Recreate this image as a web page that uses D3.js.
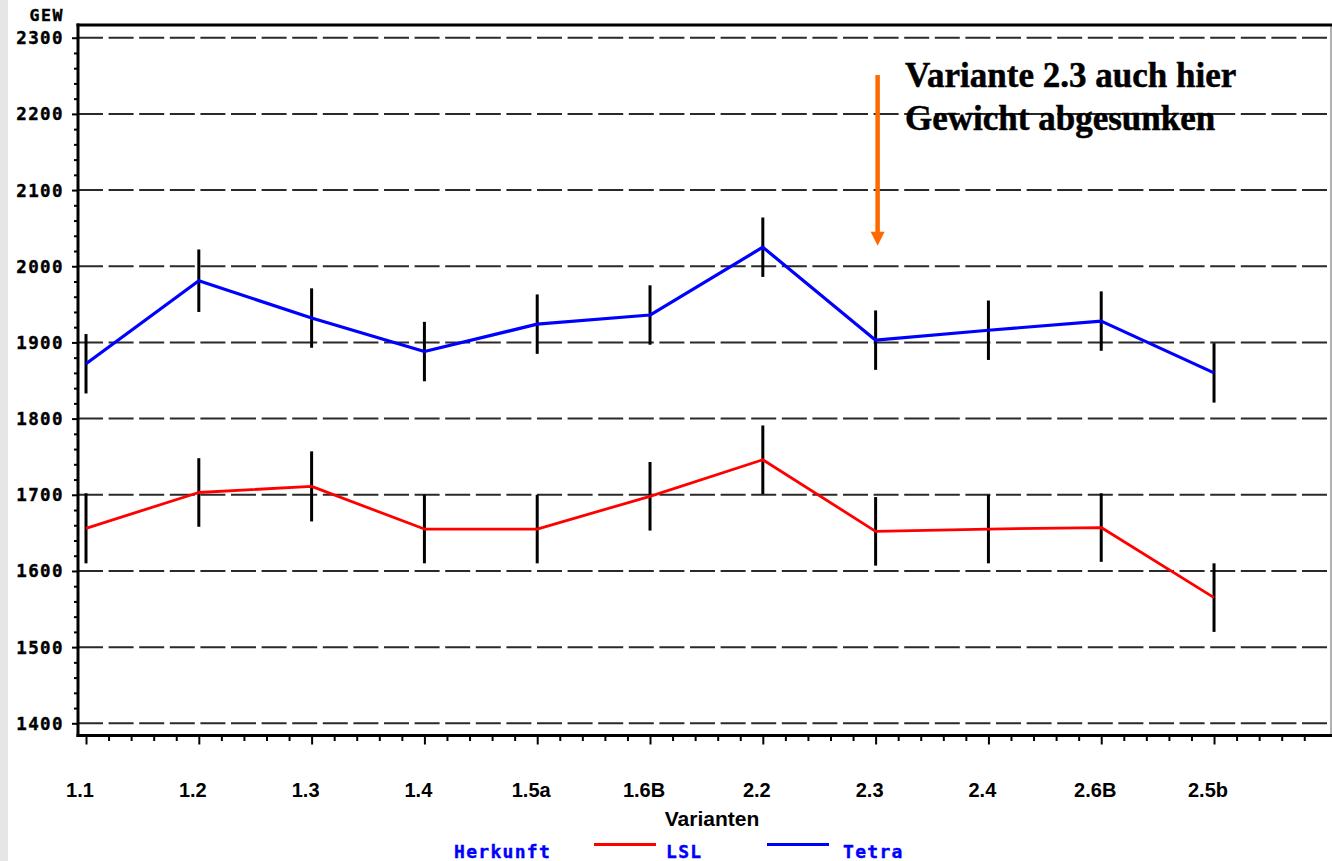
<!DOCTYPE html>
<html>
<head>
<meta charset="utf-8">
<script src="https://cdn.jsdelivr.net/npm/d3@7"></script>
<style>
  html, body { margin: 0; padding: 0; background: #fff; }
  svg { display: block; }
</style>
</head>
<body>
<script>
// ---------- data ----------
const categories = ["1.1", "1.2", "1.3", "1.4", "1.5a", "1.6B", "2.2", "2.3", "2.4", "2.6B", "2.5b"];
const lslValues   = [1656, 1703, 1711, 1655, 1655, 1698, 1746, 1652, 1655, 1657, 1565];
const lslErr      = [46, 45, 46, 45, 45, 45, 45, 45, 45, 45, 45];
const tetraValues = [1872, 1981, 1932, 1888, 1924, 1936, 2025, 1903, 1916, 1928, 1860];
const tetraErr    = [39, 41, 39, 39, 39, 39, 39, 39, 39, 39, 39];
const yTicks = [1400, 1500, 1600, 1700, 1800, 1900, 2000, 2100, 2200, 2300];
const yLabel = "GEW";
const xLabel = "Varianten";
const legendTitle = "Herkunft";
const seriesNames = ["LSL", "Tetra"];
const annotationLines = ["Variante 2.3 auch hier", "Gewicht abgesunken"];
const arrowFrom = 2251, arrowTo = 2027, arrowCategory = "2.3";

// ---------- layout ----------
const W = 1332, H = 861;
const pLeft = 78, pRight = 1331, pTop = 25, pBottom = 735.5;
const svg = d3.select("body").append("svg").attr("width", W).attr("height", H);

svg.append("rect").attr("x", 0).attr("y", 0).attr("width", 8).attr("height", H).attr("fill", "#e6e6e6");

const x = d3.scaleLinear().domain([0.929, 12.037]).range([pLeft, pRight]);
const y = d3.scaleLinear().domain([1384, 2316.7]).range([pBottom, pTop]);
const xi = i => x(i + 1);

const monoFont = "'DejaVu Sans Mono', monospace";

// grid lines
svg.append("g").selectAll("line").data(yTicks).join("line")
  .attr("x1", pLeft).attr("x2", pRight)
  .attr("y1", d => y(d)).attr("y2", d => y(d))
  .attr("stroke", "#2a2a2a").attr("stroke-width", 2)
  .attr("stroke-dasharray", "25,5.6");

// y axis
const yMinor = d3.range(1400, 2301, 20).filter(v => v % 100 !== 0);
const yAxisMajor = d3.axisLeft(y).tickValues(yTicks).tickSize(6).tickFormat("");
const yAxisMinor = d3.axisLeft(y).tickValues(yMinor).tickSize(4).tickFormat("");
const gy1 = svg.append("g").attr("transform", `translate(${pLeft},0)`).call(yAxisMajor);
const gy2 = svg.append("g").attr("transform", `translate(${pLeft},0)`).call(yAxisMinor);
[gy1, gy2].forEach(g => {
  g.select(".domain").remove();
  g.selectAll(".tick line").attr("stroke", "#000").attr("stroke-width", 2);
});
svg.append("g").selectAll("text").data(yTicks).join("text")
  .attr("x", 64).attr("y", d => y(d) + 6.5)
  .attr("text-anchor", "end")
  .attr("font-family", monoFont).attr("font-weight", "bold").attr("font-size", 17.5)
  .attr("letter-spacing", 1.4)
  .attr("fill", "#000").attr("stroke", "#000").attr("stroke-width", 0.4)
  .text(d => d);
svg.append("text").attr("x", 64).attr("y", 21).attr("text-anchor", "end")
  .attr("font-family", monoFont).attr("font-weight", "bold").attr("font-size", 16.5)
  .attr("letter-spacing", 1.6).attr("fill", "#000").attr("stroke", "#000").attr("stroke-width", 0.4)
  .text(yLabel);

// x axis ticks
const xMajor = categories.map((c, i) => i + 1);
const xMinor = d3.range(1, 12.01, 0.2).map(v => Math.round(v * 10) / 10).filter(v => Math.abs(v - Math.round(v)) > 1e-6);
const gx1 = svg.append("g").attr("transform", `translate(0,${pBottom})`).call(d3.axisBottom(x).tickValues(xMajor).tickSize(9).tickFormat(""));
const gx2 = svg.append("g").attr("transform", `translate(0,${pBottom})`).call(d3.axisBottom(x).tickValues(xMinor).tickSize(5.5).tickFormat(""));
[gx1, gx2].forEach(g => {
  g.select(".domain").remove();
  g.selectAll(".tick line").attr("stroke", "#000").attr("stroke-width", 2);
});
svg.append("g").selectAll("text").data(categories).join("text")
  .attr("x", (d, i) => xi(i) - 6).attr("y", 797)
  .attr("text-anchor", "middle")
  .attr("font-family", "'Liberation Sans', Arial, sans-serif").attr("font-weight", "bold").attr("font-size", 20)
  .attr("fill", "#000")
  .text(d => d);
svg.append("text").attr("x", 712).attr("y", 826).attr("text-anchor", "middle")
  .attr("font-family", "'Liberation Sans', Arial, sans-serif").attr("font-weight", "bold").attr("font-size", 21)
  .attr("fill", "#000").text(xLabel);

// frame
svg.append("line").attr("x1", pRight).attr("x2", pRight).attr("y1", pTop).attr("y2", pBottom)
  .attr("stroke", "#999").attr("stroke-width", 1.5);
svg.append("line").attr("x1", pLeft - 1.5).attr("x2", W).attr("y1", pTop).attr("y2", pTop)
  .attr("stroke", "#000").attr("stroke-width", 3);
svg.append("line").attr("x1", pLeft - 1.5).attr("x2", W).attr("y1", pBottom).attr("y2", pBottom)
  .attr("stroke", "#000").attr("stroke-width", 3);
svg.append("line").attr("x1", pLeft).attr("x2", pLeft).attr("y1", pTop - 1.5).attr("y2", pBottom + 1.5)
  .attr("stroke", "#000").attr("stroke-width", 3);

// series
const series = [
  { name: seriesNames[0], values: lslValues, err: lslErr, color: "#ff0000", width: 2.8 },
  { name: seriesNames[1], values: tetraValues, err: tetraErr, color: "#0000ff", width: 3.2 }
];

series.forEach(s => {
  svg.append("g").selectAll("line").data(s.values).join("line")
    .attr("x1", (d, i) => xi(i)).attr("x2", (d, i) => xi(i))
    .attr("y1", (d, i) => y(d + s.err[i])).attr("y2", (d, i) => y(d - s.err[i]))
    .attr("stroke", "#000").attr("stroke-width", 3);
});
series.forEach(s => {
  const line = d3.line().x((d, i) => xi(i)).y(d => y(d));
  svg.append("path").datum(s.values).attr("d", line)
    .attr("fill", "none").attr("stroke", s.color).attr("stroke-width", s.width)
    .attr("stroke-linejoin", "round");
});

// annotation
const ann = svg.append("text")
  .attr("font-family", "'Liberation Serif', 'Times New Roman', serif")
  .attr("font-weight", "bold").attr("font-size", 35).attr("fill", "#000")
  .attr("stroke", "#000").attr("stroke-width", 0.5);
annotationLines.forEach((t, k) => {
  ann.append("tspan").attr("x", 905).attr("y", 87 + k * 42.5).text(t);
});
const ax = xi(categories.indexOf(arrowCategory)) + 2;
svg.append("line").attr("x1", ax).attr("x2", ax)
  .attr("y1", y(arrowFrom)).attr("y2", y(arrowTo) - 12)
  .attr("stroke", "#ff6a00").attr("stroke-width", 4.5);
svg.append("path")
  .attr("d", `M${ax - 7},${y(arrowTo) - 14} L${ax + 7},${y(arrowTo) - 14} L${ax},${y(arrowTo)} Z`)
  .attr("fill", "#ff6a00");

// legend
const lg = svg.append("g");
lg.append("text").attr("x", 454).attr("y", 857.5)
  .attr("font-family", monoFont).attr("font-weight", "bold").attr("font-size", 18)
  .attr("letter-spacing", 1.3).attr("fill", "#0000ff").attr("stroke", "#0000ff").attr("stroke-width", 0.4)
  .text(legendTitle);
const legendItems = [
  { name: series[0].name, color: series[0].color, lx: 594, tx: 666 },
  { name: series[1].name, color: series[1].color, lx: 767, tx: 843 }
];
legendItems.forEach(it => {
  lg.append("line").attr("x1", it.lx).attr("x2", it.lx + 62).attr("y1", 844.5).attr("y2", 844.5)
    .attr("stroke", it.color).attr("stroke-width", 3.2);
  lg.append("text").attr("x", it.tx).attr("y", 857.5)
    .attr("font-family", monoFont).attr("font-weight", "bold").attr("font-size", 18)
    .attr("letter-spacing", 1.3).attr("fill", "#0000ff").attr("stroke", "#0000ff").attr("stroke-width", 0.4)
    .text(it.name);
});
</script>
</body>
</html>
